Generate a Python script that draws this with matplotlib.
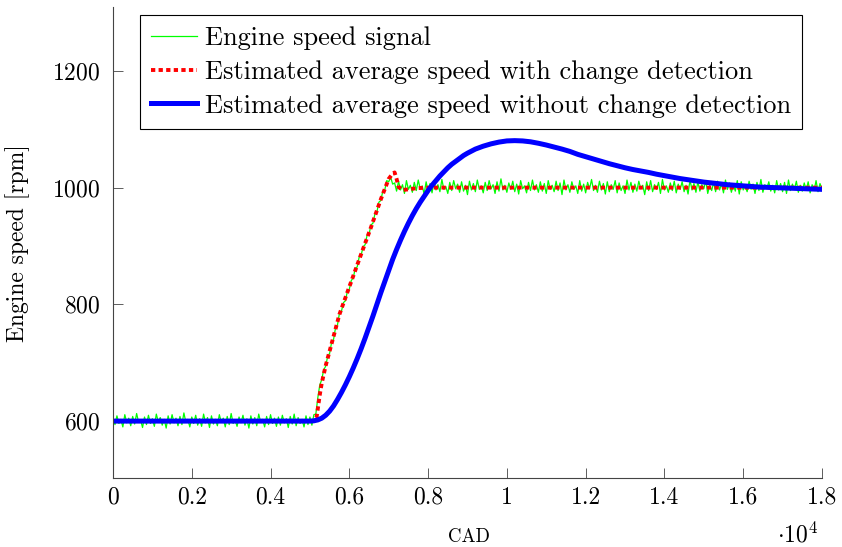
import numpy as np
import matplotlib.pyplot as plt

plt.rcParams['font.family'] = ['cmr10', 'DejaVu Serif']
plt.rcParams['mathtext.fontset'] = 'cm'
plt.rcParams['axes.formatter.use_mathtext'] = True

# engine speed signal, sampled every 50 CAD
cad = np.arange(0, 18001, 50)
speed_low = [606, 594, 609, 596, 603, 590, 611, 597, 605, 592,
             608, 595, 613, 598, 602, 589, 607, 594, 610, 596,
             604, 591, 612, 599, 606, 593, 603, 588, 609, 595,
             611, 597, 605, 592, 608, 594, 614, 598, 603, 590,
             607, 596, 610, 593, 604, 591, 612, 597, 606, 589,
             609, 595, 603, 592, 611, 598, 605, 590, 608, 594,
             613, 596, 602, 591, 607, 597, 610, 593, 604, 588,
             609, 595, 606, 592, 612, 598, 603, 590, 608, 594,
             611, 596, 605, 591, 607, 593, 610, 597, 604, 589,
             608, 595, 612, 592, 606, 596, 603, 590, 609, 594,
             607, 593, 611]
speed_ramp = [612, 640, 662, 671, 688, 694, 711, 716, 735, 740,
              760, 765, 785, 788, 803, 806, 822, 826, 841, 845,
              862, 864, 881, 884, 899, 902, 918, 920, 936, 939,
              955, 958, 975, 978, 994, 996, 1012, 1010, 1018, 1006]
speed_high = [1008, 994, 1011, 996, 1005, 990, 1012, 997, 1004, 992,
              1009, 995, 1013, 998, 1003, 989, 1010, 994, 1007, 991,
              1011, 996, 1005, 993, 1014, 997, 1002, 990, 1009, 995,
              1012, 998, 1006, 992, 1010, 994, 1004, 988, 1011, 996,
              1007, 993, 1013, 997, 1003, 991, 1009, 995, 1012, 998,
              1005, 990, 1010, 994, 1015, 996, 1004, 992, 1008, 997,
              1011, 993, 1006, 989, 1012, 998, 1003, 991, 1009, 995,
              1013, 996, 1005, 992, 1010, 994, 1007, 990, 1012, 997,
              1004, 993, 1011, 995, 1008, 988, 1013, 996, 1005, 992,
              1010, 997, 1003, 990, 1012, 994, 1006, 991, 1009, 998,
              1014, 995, 1004, 992, 1011, 996, 1007, 989, 1010, 993,
              1005, 997, 1012, 991, 1008, 995, 1003, 990, 1013, 996,
              1009, 992, 1006, 994, 1011, 998, 1004, 988, 1010, 995,
              1012, 993, 1005, 997, 1009, 990, 1014, 996, 1003, 992,
              1008, 995, 1011, 991, 1006, 997, 1010, 993, 1004, 989,
              1013, 996, 1007, 992, 1010, 994, 1005, 998, 1012, 990,
              1004, 995, 1009, 993, 1011, 996, 1006, 991, 1013, 997,
              1008, 992, 1005, 994, 1012, 989, 1010, 996, 1003, 993,
              1011, 997, 1006, 990, 1009, 995, 1014, 992, 1005, 998,
              1010, 994, 1004, 991, 1012, 996, 1007, 993, 1009, 990,
              1013, 995, 1006, 997, 1011, 992, 1004, 994, 1008, 996,
              1010, 991, 1005, 995, 1012, 993, 1007, 998]
speed = speed_low + speed_ramp + speed_high

# estimate with change detection
det_x = [0, 5100, 5170, 5250, 5300, 5400, 5500, 5750, 6000, 6300, 6550,
         6800, 7000, 7100, 7150, 7200, 7250, 7350, 7500, 7700, 8000, 18000]
det_y = [600, 600, 607, 645, 665, 695, 720, 783, 830, 886, 932,
         980, 1015, 1024, 1026, 1015, 1001, 996, 997, 999, 1000, 1000]

# estimate without change detection
nodet_x = [0, 5000, 5100, 5200, 5300, 5400, 5500, 5600, 5700, 5800, 5900,
           6000, 6100, 6200, 6300, 6400, 6500, 6600, 6700, 6800, 6900,
           7000, 7100, 7200, 7300, 7400, 7500, 7600, 7700, 7800, 7900,
           8000, 8100, 8200, 8300, 8400, 8500, 8600, 8700, 8800, 8900,
           9000, 9200, 9400, 9600, 9800, 10000, 10200, 10400, 10600, 10800,
           11000, 11200, 11400, 11600, 11800, 12000, 12200, 12400, 12600, 12800,
           13000, 13200, 13400, 13600, 13800, 14000, 14200, 14400, 14600, 14800,
           15000, 15200, 15400, 15600, 15800, 16000, 16200, 16400, 16600, 16800,
           17000, 17200, 17400, 17600, 17800, 18000]
nodet_y = [600, 600, 600.5, 602, 605, 610, 617, 626, 637, 649, 662,
           676, 691, 707, 724, 742, 761, 780, 800, 820, 839,
           858, 877, 894, 910, 925, 939, 952, 964, 975, 985,
           995, 1004, 1012, 1020, 1027, 1034, 1040, 1045, 1050, 1055,
           1059, 1066, 1071, 1075, 1078, 1080, 1080.5, 1080, 1078.5, 1076,
           1073, 1069.5, 1066, 1062, 1057, 1053, 1049, 1045, 1041, 1037.5,
           1034, 1031, 1028.5, 1026, 1023, 1020.5, 1018, 1015.5, 1013.5, 1011.5,
           1009.5, 1008, 1006.5, 1005, 1004, 1003, 1002, 1001, 1000.5, 1000,
           999.5, 999, 998.5, 998, 997.5, 997]

xticks = [0, 2000, 4000, 6000, 8000, 10000, 12000, 14000, 16000, 18000]
xticklabels = ['0', '0.2', '0.4', '0.6', '0.8', '1', '1.2', '1.4', '1.6', '1.8']
yticks = [600, 800, 1000, 1200]

fig = plt.figure(figsize=(8.42, 5.47), dpi=100)
ax = fig.add_axes([0.1342, 0.1256, 0.842, 0.8622])

ax.plot(cad, speed, color='#00ff00', lw=0.9, label='Engine speed signal')
ax.plot(det_x, det_y, color='#ff0000', lw=2.8, linestyle=(0, (1.1, 0.85)),
        dash_capstyle='butt', label='Estimated average speed with change detection')
ax.plot(nodet_x, nodet_y, color='#0000ff', lw=3.6, solid_joinstyle='round',
        label='Estimated average speed without change detection')

ax.set_xlim(0, 18000)
ax.set_ylim(502, 1310)
ax.set_xticks(xticks)
ax.set_xticklabels(xticklabels)
ax.set_yticks(yticks)
ax.spines['top'].set_visible(False)
ax.spines['right'].set_visible(False)
for s in ['left', 'bottom']:
    ax.spines[s].set_linewidth(0.8)
    ax.spines[s].set_color('#444444')
ax.tick_params(direction='in', length=7, width=0.6, color='#444444', labelsize=17)
ax.tick_params(axis='x', pad=6)
ax.tick_params(axis='y', pad=9)

fig.text(18/842, 1-243/547, 'Engine speed [rpm]', rotation=90, fontsize=17,
         ha='center', va='center')
fig.text(469/842, 1-537/547, 'CAD', fontsize=13.5, ha='center', va='center')
fig.text(798/842, 1-535/547, r'$\cdot10^{4}$', fontsize=17, ha='center', va='center')

leg = ax.legend(loc='upper left', bbox_to_anchor=(0.038, 0.982), borderaxespad=0,
                fontsize=19, fancybox=False, framealpha=1, edgecolor='black',
                handlelength=1.75, handletextpad=0.3, labelspacing=0.38, borderpad=0.42)
leg.get_frame().set_linewidth(0.8)

plt.savefig('out.png', dpi=100)
